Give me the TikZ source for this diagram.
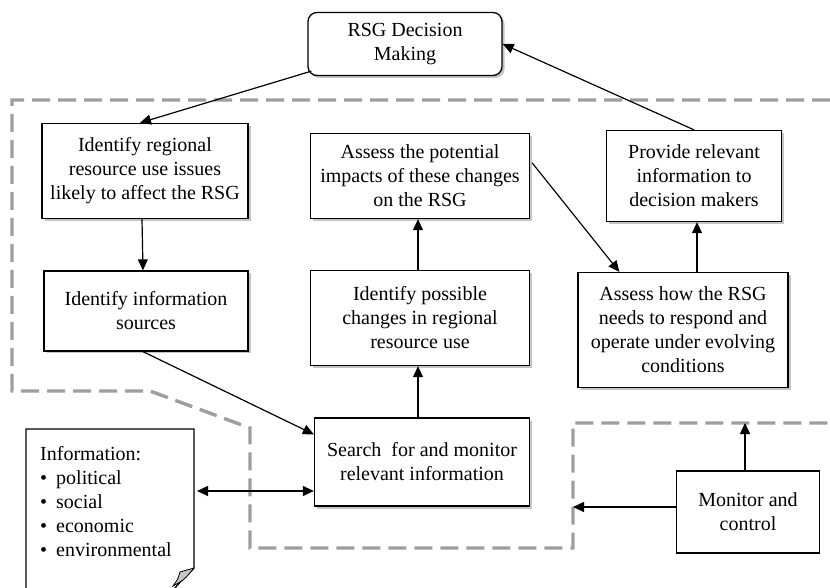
\documentclass[tikz,border=0pt]{standalone}
\usepackage{fontspec}
\setmainfont{Liberation Serif}
\usetikzlibrary{arrows.meta,shadows,positioning}

\begin{document}
\begin{tikzpicture}[
		x=1pt,
		y=1pt,
		line join=miter,
		>={Triangle[length=11pt,width=10pt]},
		txt/.style={font=\fontsize{20}{24}\selectfont},
		box/.style={txt, draw, line width=1.3pt, fill=white, align=center,
			inner sep=0pt},
		shbox/.style={box, drop shadow={shadow xshift=2.5pt,
				shadow yshift=-2.5pt, fill=black!45}},
		arr/.style={->, line width=1.2pt},
		zone/.style={draw=black!38, line width=3.4pt,
			dash pattern=on 18pt off 8pt}
		]
		
		\useasboundingbox (0,0) rectangle (830,587);
		
		%------------------------------------------------------------------
		% Dashed zones
		%------------------------------------------------------------------
		\draw[zone] (830,487) -- (12,487) -- (12,196) -- (150,196)
		-- (250,159) -- (250,39) -- (573,39) -- (573,164) -- (830,164);
		
		\coordinate (zoneL) at (573, 80);
		\coordinate (zoneT) at (745,164);
		
		%------------------------------------------------------------------
		% Boxes
		%------------------------------------------------------------------
		\node[shbox, rounded corners=9pt, minimum width=194, minimum height=63]
		(rsg) at (405,543) {RSG Decision\\Making};
		
		\node[shbox, minimum width=206, minimum height=95]
		(idIssues) at (145,416) {Identify regional\\resource use issues\\likely to affect the RSG};
		
		\node[shbox, minimum width=204, minimum height=80]
		(idSources) at (146,276) {Identify information\\sources};
		
		\node[shbox, minimum width=219, minimum height=85]
		(assessImpact) at (420,411) {Assess the potential\\impacts of these changes\\on the RSG};
		
		\node[shbox, minimum width=219, minimum height=95]
		(idChanges) at (420,269) {Identify possible\\changes in regional\\resource use};
		
		\node[shbox, minimum width=175, minimum height=91]
		(provide) at (694,411) {Provide relevant\\information to\\decision makers};
		
		\node[shbox, minimum width=210, minimum height=115]
		(assessResp) at (683,257) {Assess how the RSG\\needs to respond and\\operate under evolving\\conditions};
		
		\node[shbox, minimum width=215, minimum height=88]
		(search) at (422,125) {Search\ \ for and monitor\\relevant information};
		
		\node[box, minimum width=143, minimum height=82]
		(monitor) at (748,75) {Monitor and\\control};
		
		%------------------------------------------------------------------
		% Information sheet with folded corner
		%------------------------------------------------------------------
		\draw[line width=1.3pt, fill=white] (26,-4) -- (26,158) -- (194,158)
		-- (194,19) .. controls (186,10) and (178,4) .. (173,-4);
		\draw[line width=0.8pt, fill=black!22] (194,19) -- (180,15)
		.. controls (178,8) .. (173,1) .. controls (184,7) .. (194,19);
		
		\node[txt, anchor=north west, align=left, inner sep=0pt]
		(info) at (40,141) {Information:\\
			\textbullet\hspace{9pt}political\\
			\textbullet\hspace{9pt}social\\
			\textbullet\hspace{9pt}economic\\
			\textbullet\hspace{9pt}environmental};
		
		\coordinate (infoR) at (197,96);
		
		%------------------------------------------------------------------
		% Connectors
		%------------------------------------------------------------------
		\draw[arr] ([xshift=4pt,yshift=5pt]rsg.south west) -- ([xshift=-5pt]idIssues.north);
		\draw[arr] ([xshift=-3pt]idIssues.south) -- ([xshift=-3pt]idSources.north);
		\draw[arr] ([xshift=-3pt]idSources.south) -- ([yshift=-17pt]search.north west);
		\draw[arr] ([xshift=-4pt]search.north) -- ([xshift=-2pt]idChanges.south);
		\draw[arr] ([xshift=-2pt]idChanges.north) -- ([xshift=-2pt]assessImpact.south);
		\draw[arr] ([xshift=2pt,yshift=-30pt]assessImpact.north east) -- ([xshift=42pt]assessResp.north west);
		\draw[arr] ([xshift=3pt]assessResp.north -| provide.south) -- ([xshift=3pt]provide.south);
		\draw[arr] (provide.north) -- (rsg.east);
		\draw[arr, <->] (infoR) -- (search.west |- infoR);
		\draw[arr] (monitor.west |- zoneL) -- (zoneL);
		\draw[arr] (zoneT |- monitor.north) -- (zoneT);
		
	\end{tikzpicture}
\end{document}
